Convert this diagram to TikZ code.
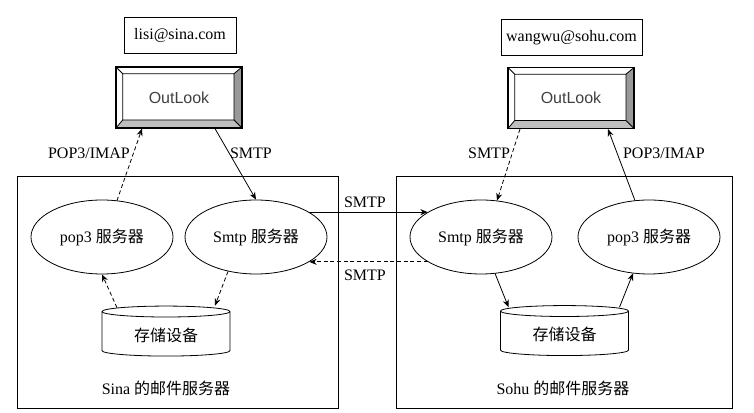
\documentclass[tikz,border=0pt]{standalone}
\usepackage{fontspec}
\setmainfont{Liberation Serif}
\newfontfamily\cjk{Noto Sans CJK SC}
\newfontfamily\uifont{Liberation Sans}
\usetikzlibrary{shapes.geometric,arrows.meta,calc}

\begin{document}
\begin{tikzpicture}[x=0.75pt, y=-0.75pt, >={Stealth[length=5.5pt,width=4.5pt]},
    font=\fontsize{12}{14}\selectfont, line width=0.6pt,
    addr/.style={draw, minimum height=27pt, inner xsep=1pt},
    server/.style={draw, ellipse, minimum width=106.5pt, minimum height=55.5pt},
    store/.style={draw, cylinder, shape border rotate=90, aspect=0.15,
        minimum width=96pt, minimum height=37.5pt},
    site/.style={draw, minimum width=#1, minimum height=174pt},
    dashline/.style={dash pattern=on 3pt off 2pt},
    client/.style={draw, line width=0.9pt, minimum width=94.5pt, minimum height=45.75pt,
        font=\uifont\fontsize{12}{14}\selectfont, text=black!75,
        path picture={
            \coordinate (bl) at (path picture bounding box.south west);
            \coordinate (tr) at (path picture bounding box.north east);
            \coordinate (ibl) at ([shift={(5pt,6pt)}]bl);
            \coordinate (itr) at ([shift={(-6pt,-5pt)}]tr);
            \fill[gray!50] (bl) -- (bl -| tr) -- (ibl -| itr) -- (ibl) -- cycle;
            \fill[gray!80] (tr) -- (bl -| tr) -- (ibl -| itr) -- (itr) -- cycle;
            \draw[line width=0.6pt] (ibl) rectangle (itr)
                (bl) -- (ibl) (tr) -- (itr)
                (bl -| tr) -- (ibl -| itr) (tr -| bl) -- (itr -| ibl);
        }}]
    \useasboundingbox (0,0) rectangle (754,413);

    % Sina
    \node[site=240.75pt] (sina) at (177.5,292) {};
    \node (sinaname) at (166,388) {Sina {\cjk 的邮件服务器}};
    \node[addr, minimum width=84pt] (mail1) at (180,35) {lisi@sina.com};
    \node[client] (ol1) at (179,97.5) {OutLook};
    \node[server] (pop1) at (102,237) {pop3 {\cjk 服务器}};
    \node[server] (sm1) at (256,237) {Smtp {\cjk 服务器}};
    \node[store] (st1) at (166,335) {\cjk 存储设备};

    \node (lbpop1) at (89,153) {POP3/IMAP};
    \node (lbsm1) at (251,153) {SMTP};

    \draw[->, dashline] ($(pop1.north)+(15,1)$) -- ($(ol1.south)+(-37,0)$);
    \draw[->] ($(ol1.south)+(36,0)$) -- (sm1.north);
    \draw[->, dashline] ($(st1.north)+(-49,2)$) -- (pop1.south);
    \draw[->, dashline] ($(sm1.south)+(-28,-3)$) -- ($(st1.north)+(49,0)$);

    % Sohu
    \node[site=252pt] (sohu) at (564,292) {};
    \node (sohuname) at (563,388) {Sohu {\cjk 的邮件服务器}};
    \node[addr, minimum width=105.75pt] (mail2) at (571.5,37.5) {wangwu@sohu.com};
    \node[client] (ol2) at (571,98) {OutLook};
    \node[server] (sm2) at (481,237) {Smtp {\cjk 服务器}};
    \node[server] (pop2) at (649,237) {pop3 {\cjk 服务器}};
    \node[store] (st2) at (564.5,334.5) {\cjk 存储设备};

    \node (lbsm2) at (489,153) {SMTP};
    \node (lbpop2) at (664,153) {POP3/IMAP};

    \draw[->, dashline] ($(ol2.south)+(-51,0)$) -- ($(sm2.north)+(16,1)$);
    \draw[->] ($(pop2.north)+(-14,1)$) -- ($(ol2.south)+(37,0)$);
    \draw[->] ($(sm2.south)+(14,-1)$) -- ($(st2.north)+(-56,2)$);
    \draw[->] ($(st2.north)+(55,2)$) -- ($(pop2.south)+(-16,-1)$);

    % between the two servers
    \draw[->] (sm1.25) -- (sm2.155);
    \draw[->, dashline] (sm2.205) -- (sm1.-25);
    \node (lbsmtp) at (365,202) {SMTP};
    \node (lbsmtpback) at (365,275) {SMTP};
\end{tikzpicture}
\end{document}
